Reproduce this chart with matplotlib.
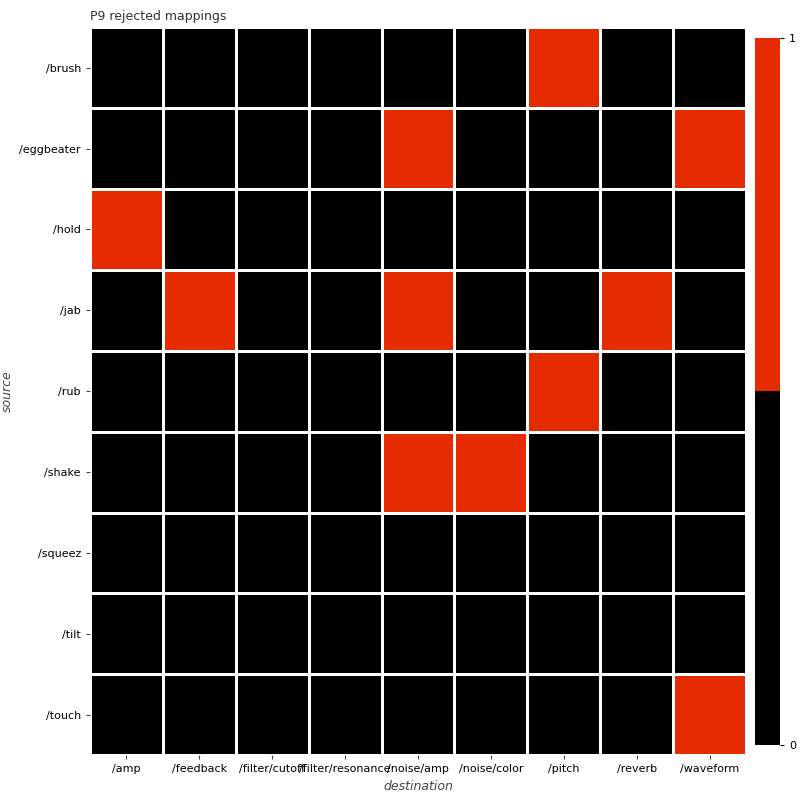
import numpy as np
import matplotlib.pyplot as plt
from matplotlib.colors import ListedColormap

sources = ["/brush", "/eggbeater", "/hold", "/jab", "/rub", "/shake", "/squeez", "/tilt", "/touch"]
destinations = ["/amp", "/feedback", "/filter/cutoff", "/filter/resonance", "/noise/amp",
                "/noise/color", "/pitch", "/reverb", "/waveform"]
rejected = {
    "/brush": ["/pitch"],
    "/eggbeater": ["/noise/amp", "/waveform"],
    "/hold": ["/amp"],
    "/jab": ["/feedback", "/noise/amp", "/reverb"],
    "/rub": ["/pitch"],
    "/shake": ["/noise/amp", "/noise/color"],
    "/squeez": [],
    "/tilt": [],
    "/touch": ["/waveform"],
}

grid = np.zeros((len(sources), len(destinations)))
for i, s in enumerate(sources):
    for d in rejected[s]:
        grid[i, destinations.index(d)] = 1

cmap = ListedColormap(["#000000", "#e52b00"])

fig = plt.figure(figsize=(8, 8), dpi=100)
ax = fig.add_axes([0.1125, 0.056, 0.82, 0.91])
cax = fig.add_axes([0.944, 0.069, 0.031, 0.884])

mesh = ax.pcolormesh(grid, cmap=cmap, vmin=0, vmax=1, edgecolors="white", linewidth=1)
ax.set_xlim(0, len(destinations))
ax.set_ylim(len(sources), 0)
ax.set_xticks(np.arange(len(destinations)) + 0.5)
ax.set_xticklabels(destinations, fontsize=8)
ax.set_yticks(np.arange(len(sources)) + 0.5)
ax.set_yticklabels(sources, fontsize=8)
ax.tick_params(length=3, color="#444444")
for sp in ax.spines.values():
    sp.set_visible(False)
ax.set_xlabel("destination", fontsize=9, style="italic", color="#444444")
ax.set_ylabel("source", fontsize=9, style="italic", color="#444444")
ax.set_title("P9 rejected mappings", fontsize=9, loc="left", color="#333333", pad=5)

cb = fig.colorbar(mesh, cax=cax, ticks=[0, 1])
cb.outline.set_visible(False)
cb.ax.tick_params(labelsize=8, length=3)

fig.savefig("out.png", dpi=100)
